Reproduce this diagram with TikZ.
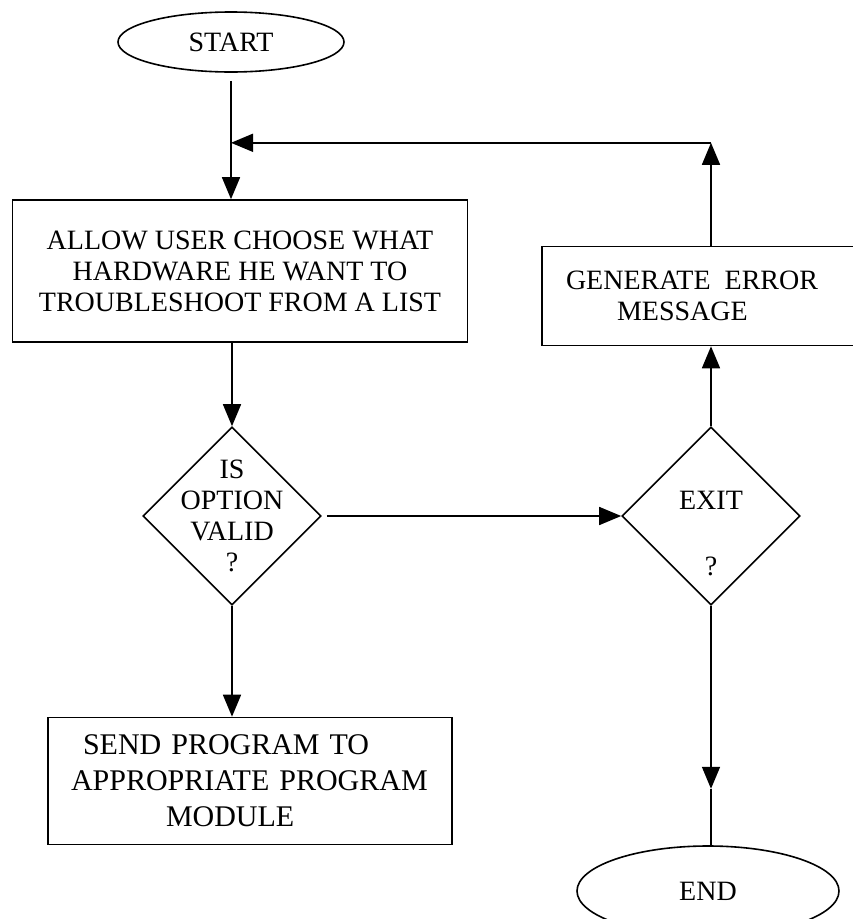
\documentclass[tikz,border=0pt]{standalone}
\usepackage{fontspec}
\setmainfont{Liberation Serif}
\usetikzlibrary{shapes.geometric,arrows.meta}

\begin{document}
\begin{tikzpicture}[x=1pt,y=-1pt,line width=1.6pt,
  txt/.style={font=\fontsize{28pt}{31pt}\selectfont,align=center},
  terminal/.style={ellipse,draw,txt,inner sep=0pt},
  process/.style={rectangle,draw,txt,inner sep=0pt},
  decision/.style={diamond,draw,inner sep=0pt,minimum width=178,minimum height=178},
  flow/.style={-{Triangle[length=22pt,width=18pt]}}]
\useasboundingbox (0,0) rectangle (853,919);
\clip (0,0) rectangle (853,919);
\node[terminal,minimum width=226,minimum height=60] (start) at (231,42) {START};
\node[process,minimum width=455,minimum height=142] (allow) at (240,271)
  {ALLOW USER CHOOSE WHAT\\HARDWARE HE WANT TO\\TROUBLESHOOT FROM A LIST};
\node[decision,label={[txt]center:{IS\\OPTION\\VALID\\?}}] (valid) at (232,516) {};
\node[decision,label={[txt,yshift=-18pt]center:{EXIT\\[35pt]?}}] (exit) at (711,516) {};
\node[process,minimum width=338,minimum height=99,text width=290,align=left] (err) at (711,296)
  {GENERATE\ \,ERROR\\\hspace*{51pt}MESSAGE};
\node[process,minimum width=404,minimum height=127,text width=358,align=left,
  font=\fontsize{30pt}{36pt}\selectfont] (send) at (250,781)
  {\hspace*{12pt}SEND PROGRAM TO\\APPROPRIATE PROGRAM\\\hspace*{95pt}MODULE};
\node[terminal,minimum width=262,minimum height=90] (finish) at (708,891) {END};
\path (start.south) ++(0,70) coordinate (merge);
\coordinate (corner) at (err.north |- merge);
\path (exit.south) ++(0,183) coordinate (endtip);
\draw[flow,shorten <=8pt] (start.south) -- (start.south |- allow.north);
\draw[flow] (err.north) -- (corner);
\draw[flow] (corner) -- (merge);
\draw[flow] (valid.north |- allow.south) -- (valid.north);
\draw[flow,shorten <=5pt] (valid.east) -- (exit.west);
\draw[flow] (exit.north) -- (exit.north |- err.south);
\draw[flow] (valid.south) -- (valid.south |- send.north);
\draw[flow] (exit.south) -- (endtip);
\draw (endtip) -- (endtip |- finish.north);
\end{tikzpicture}
\end{document}
